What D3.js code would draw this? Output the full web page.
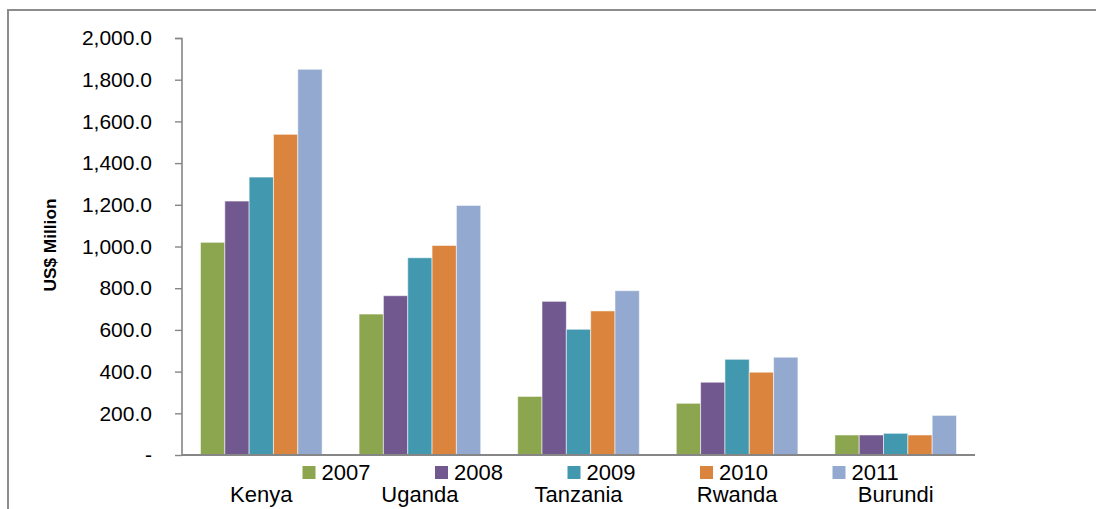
<!DOCTYPE html>
<html>
<head>
<meta charset="utf-8">
<script src="https://cdn.jsdelivr.net/npm/d3@7/dist/d3.min.js"></script>
<style>
  html, body { margin: 0; padding: 0; background: #fff; }
  svg { display: block; }
</style>
</head>
<body>
<svg id="chart" width="1096" height="509"></svg>
<script>
const categories = ["Kenya", "Uganda", "Tanzania", "Rwanda", "Burundi"];
const years = ["2007", "2008", "2009", "2010", "2011"];
const v2007 = [1020, 676, 281, 248, 96];
const v2008 = [1218, 764, 737, 349, 96];
const v2009 = [1333, 946, 603, 459, 104];
const v2010 = [1538, 1005, 691, 397, 96];
const v2011 = [1850, 1197, 788, 469, 190];
const seriesValues = [v2007, v2008, v2009, v2010, v2011];
const colors = ["#8BA64E", "#71588F", "#4298AF", "#DB843D", "#93A9CF"];
const yTicks = [0, 200, 400, 600, 800, 1000, 1200, 1400, 1600, 1800, 2000];

const svg = d3.select("#chart");

// outer frame (only top and left edges visible)
svg.append("path")
  .attr("d", "M8,509 L8,10 L1096,10")
  .attr("fill", "none")
  .attr("stroke", "#8c8c8c")
  .attr("stroke-width", 2);

const x0 = d3.scaleBand().domain(categories).range([182, 975]).paddingInner(0.233).paddingOuter(0.1165);
const x1 = d3.scaleBand().domain(years).range([0, x0.bandwidth()]);
const y = d3.scaleLinear().domain([0, 2000]).range([455, 38]);

// bars
const groups = svg.append("g").selectAll("g")
  .data(categories)
  .join("g")
  .attr("transform", d => `translate(${x0(d)},0)`);

groups.selectAll("rect")
  .data((c, ci) => years.map((yr, si) => ({ yr, si, v: seriesValues[si][ci] })))
  .join("rect")
  .attr("x", d => x1(d.yr))
  .attr("y", d => y(d.v))
  .attr("width", x1.bandwidth())
  .attr("height", d => y(0) - y(d.v))
  .attr("fill", d => colors[d.si])
  .attr("stroke", "#ffffff")
  .attr("stroke-opacity", 0.55)
  .attr("stroke-width", 1);

// y axis
const yAxis = d3.axisLeft(y)
  .tickValues(yTicks)
  .tickSize(7)
  .tickPadding(23)
  .tickFormat(d => d === 0 ? "-" : d3.format(",.1f")(d));

const gy = svg.append("g").attr("transform", "translate(182,0)").call(yAxis);
gy.select(".domain").attr("stroke", "#868686").attr("stroke-width", 1.6)
  .attr("d", "M-7,38.5H0V455");
gy.selectAll(".tick line").attr("stroke", "#868686").attr("stroke-width", 1.4);
gy.selectAll(".tick text")
  .attr("fill", "#000")
  .style("font-family", "'Liberation Sans', Arial, sans-serif")
  .style("font-size", "21px");

// x axis baseline
const xAxis = d3.axisBottom(x0).tickSize(0).tickPadding(31);
const gx = svg.append("g").attr("transform", "translate(0,455)").call(xAxis);
gx.select(".domain").attr("stroke", "#868686").attr("stroke-width", 2)
  .attr("d", "M182,0H975");
gx.selectAll(".tick text")
  .attr("fill", "#000")
  .style("font-family", "'Liberation Sans', Arial, sans-serif")
  .style("font-size", "22px");

// y title
svg.append("text")
  .attr("transform", "translate(56,245) rotate(-90)")
  .attr("text-anchor", "middle")
  .attr("textLength", 93)
  .attr("lengthAdjust", "spacingAndGlyphs")
  .style("font-family", "'Liberation Sans', Arial, sans-serif")
  .style("font-weight", "bold")
  .style("font-size", "16px")
  .text("US$ Million");

// legend
const lx = d3.scaleBand().domain(years).range([302.5, 965]);
const legend = svg.append("g").selectAll("g")
  .data(years)
  .join("g")
  .attr("transform", d => `translate(${lx(d)},466)`);
legend.append("rect")
  .attr("width", 13).attr("height", 13)
  .attr("fill", (d, i) => colors[i]);
legend.append("text")
  .attr("x", 19).attr("y", 14)
  .style("font-family", "'Liberation Sans', Arial, sans-serif")
  .style("font-size", "22px")
  .attr("fill", "#000")
  .text(d => d);
</script>
</body>
</html>
